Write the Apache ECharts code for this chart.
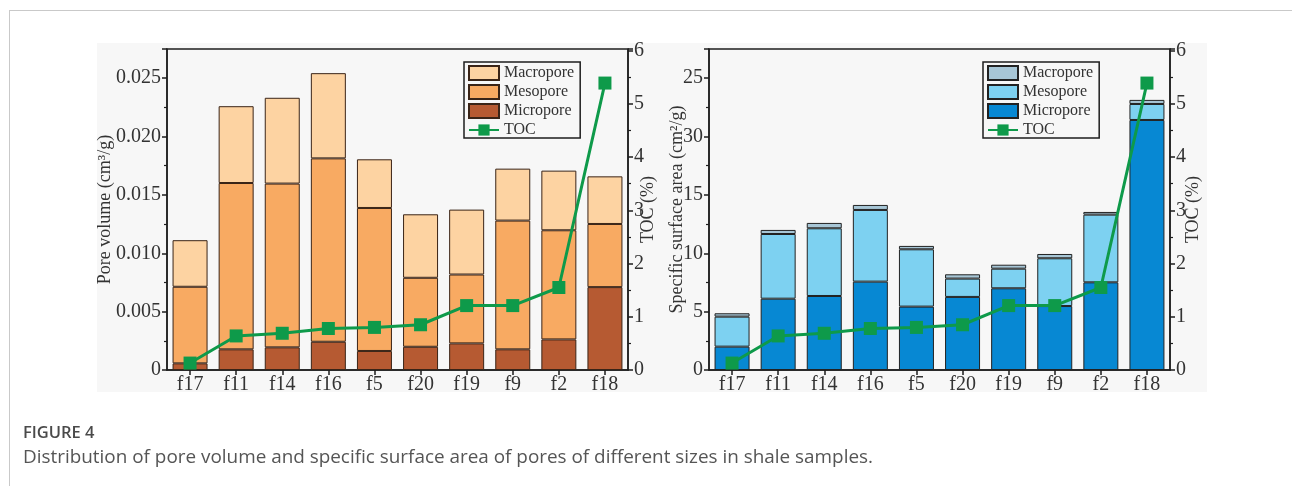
<!DOCTYPE html>
<html>
<head>
<meta charset="utf-8">
<script src="https://cdn.jsdelivr.net/npm/echarts@6/dist/echarts.min.js"></script>
<style>
  body { margin: 0; width: 1292px; height: 486px; background: #fff; overflow: hidden; position: relative; font-family: "Open Sans", sans-serif; }
  #card { position: absolute; left: 9px; top: 10px; width: 1400px; height: 600px; border: 1px solid #c9c9c9; }
  #fig { position: absolute; left: 97px; top: 43px; width: 1110px; height: 349px; background: #f7f7f7; }
  .chart { position: absolute; left: 0; top: 0; width: 1292px; height: 486px; }
  #cap-title { position: absolute; left: 23px; top: 420px; font-size: 16.5px; font-weight: 600; color: #4a4a4a; }
  #cap-text { position: absolute; left: 23px; top: 443px; font-size: 18.9px; color: #555; }
</style>
</head>
<body>
<div id="card"></div>
<div id="fig"></div>
<div id="c-vol" class="chart"></div>
<div id="c-area" class="chart"></div>
<div id="cap-title">FIGURE 4</div>
<div id="cap-text">Distribution of pore volume and specific surface area of pores of different sizes in shale samples.</div>
<script>
  // samples and TOC
  var samples = ['f17', 'f11', 'f14', 'f16', 'f5', 'f20', 'f19', 'f9', 'f2', 'f18'];
  var tocValues = [0.13, 0.64, 0.69, 0.78, 0.80, 0.85, 1.21, 1.21, 1.55, 5.39];

  // pore volume (cm3/g)
  var volMicro = [0.00057, 0.00177, 0.00194, 0.00242, 0.00163, 0.00199, 0.00228, 0.00177, 0.00262, 0.0071];
  var volMeso  = [0.00656, 0.01425, 0.01403, 0.01571, 0.01225, 0.00591, 0.0059, 0.01103, 0.00935, 0.00541];
  var volMacro = [0.00399, 0.00658, 0.00735, 0.0073, 0.00417, 0.00544, 0.00556, 0.00445, 0.00511, 0.00408];

  // specific surface area (cm2/g)
  var areaMicro = [2.0, 6.11, 6.34, 7.57, 5.43, 6.26, 7.0, 5.48, 7.51, 21.42];
  var areaMeso  = [2.57, 5.54, 5.8, 6.14, 4.91, 1.57, 1.68, 4.09, 5.8, 1.37];
  var areaMacro = [0.29, 0.35, 0.46, 0.43, 0.29, 0.37, 0.34, 0.37, 0.23, 0.35];

  // tick labels as printed
  var volTickLabels = ['0', '0.005', '0.010', '0.015', '0.020', '0.025'];
  var areaTickLabels = ['0', '5', '10', '15', '30', '25'];
  var tocTickLabels = ['0', '1', '2', '3', '4', '5', '6'];

  var serif = '"Liberation Serif", "Times New Roman", serif';
  var ink = '#1e1e1e';

  function buildOption(p) {
    var line = { show: true, lineStyle: { color: ink, width: 1.5 } };
    var tick = { show: true, inside: false, length: 5, lineStyle: { color: ink, width: 1.5 } };
    var minor = { show: true, splitNumber: 2, length: 3, lineStyle: { color: ink, width: 1.2 } };
    var label = { fontFamily: serif, fontSize: 20, color: '#333' };
    var nameStyle = { fontFamily: serif, fontSize: 18, color: '#333' };
    function bar(name, data, color) {
      return {
        name: name, type: 'bar', stack: 'pore', data: data, barWidth: 35,
        itemStyle: { color: color, borderColor: p.border, borderWidth: 1 }
      };
    }
    return {
      animation: false,
      grid: {
        left: p.gridLeft, top: 49, width: 461, height: 321,
        containLabel: false, outerBoundsMode: 'none',
        show: true, borderColor: ink, borderWidth: 1.5
      },
      legend: {
        orient: 'vertical', left: p.legendLeft, top: 62,
        padding: [3, 6, 0, 4], itemGap: 3, itemWidth: 30, itemHeight: 14,
        borderColor: ink, borderWidth: 1.5,
        textStyle: { fontFamily: serif, fontSize: 16, color: '#333' },
        data: [
          { name: 'Macropore', icon: 'rect' },
          { name: 'Mesopore', icon: 'rect' },
          { name: 'Micropore', icon: 'rect' },
          { name: 'TOC' }
        ]
      },
      xAxis: {
        type: 'category', data: samples,
        axisLine: line,
        axisTick: Object.assign({ alignWithLabel: true }, tick),
        axisLabel: Object.assign({ margin: 5 }, label)
      },
      yAxis: [
        {
          type: 'value', min: 0, max: p.max, interval: p.interval,
          name: p.name, nameLocation: 'middle', nameGap: p.nameGap, nameTextStyle: nameStyle,
          nameMoveOverlap: false,
          axisLine: line, axisTick: tick, minorTick: minor, splitLine: { show: false },
          axisLabel: Object.assign({
            margin: 6,
            formatter: function (v, i) { return p.ticks[i] || ''; }
          }, label)
        },
        {
          type: 'value', position: 'right', min: 0, max: 6.03, interval: 1,
          name: 'TOC (%)', nameLocation: 'middle', nameGap: p.tocGap, nameTextStyle: nameStyle,
          nameMoveOverlap: false,
          axisLine: line, axisTick: tick, minorTick: minor, splitLine: { show: false },
          axisLabel: Object.assign({
            margin: 6,
            formatter: function (v, i) { return tocTickLabels[i] || ''; }
          }, label)
        }
      ],
      series: [
        bar('Micropore', p.micro, p.colors[2]),
        bar('Mesopore', p.meso, p.colors[1]),
        bar('Macropore', p.macro, p.colors[0]),
        {
          name: 'TOC', type: 'line', yAxisIndex: 1, data: tocValues, z: 5,
          symbol: 'rect', symbolSize: 13,
          itemStyle: { color: '#0e9a4a' },
          lineStyle: { color: '#0e9a4a', width: 3 }
        }
      ]
    };
  }

  var volChart = echarts.init(document.getElementById('c-vol'));
  volChart.setOption(buildOption({
    gridLeft: 167, legendLeft: 464, max: 0.0275, interval: 0.005,
    name: 'Pore volume (cm³/g)', nameGap: 53, tocGap: 11, ticks: volTickLabels,
    micro: volMicro, meso: volMeso, macro: volMacro,
    colors: ['#fdd3a2', '#f8aa62', '#b65a32'], border: '#3a2417'
  }));

  var areaChart = echarts.init(document.getElementById('c-area'));
  areaChart.setOption(buildOption({
    gridLeft: 709, legendLeft: 983, max: 27.5, interval: 5,
    name: 'Specific surface area (cm²/g)', nameGap: 23, tocGap: 14, ticks: areaTickLabels,
    micro: areaMicro, meso: areaMeso, macro: areaMacro,
    colors: ['#a7c6d6', '#7dd1f1', '#0788d3'], border: '#222'
  }));
</script>
</body>
</html>
